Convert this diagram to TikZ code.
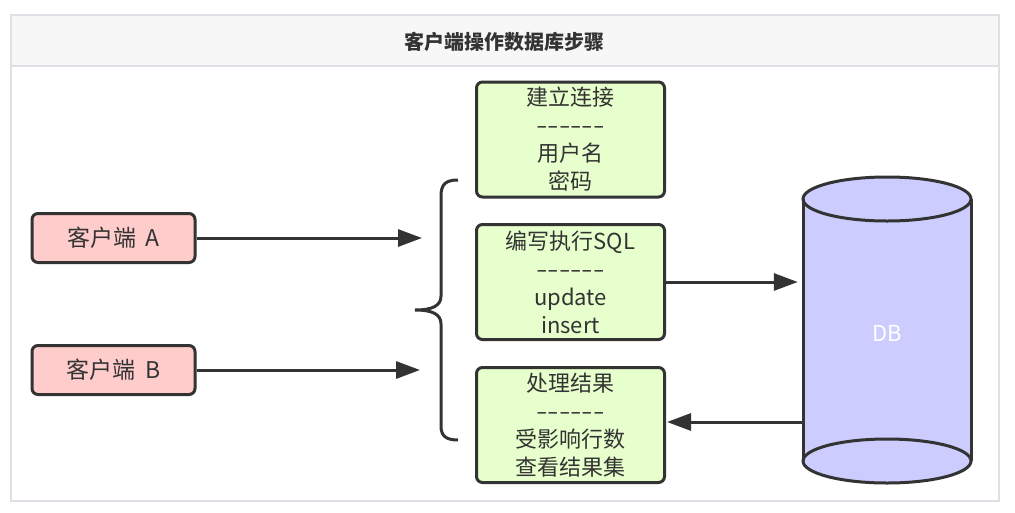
\documentclass[tikz,border=0pt]{standalone}
\usepackage{fontspec}
\newfontfamily\cjk{Noto Sans CJK SC}
\usetikzlibrary{arrows.meta}
\definecolor{ink}{HTML}{333333}
\definecolor{redfill}{HTML}{FFCCCC}
\definecolor{greenfill}{HTML}{E6FFCC}
\definecolor{bluefill}{HTML}{CCCCFF}
\definecolor{framegray}{HTML}{DDE1E6}
\definecolor{titlebg}{HTML}{F7F7F7}
\newcommand{\dashline}{\scalebox{1.5}[1]{------}}
\tikzset{
  box/.style={draw=ink, line width=3pt, rounded corners=6pt, inner sep=0pt, text=ink},
  client/.style={box, fill=redfill, minimum width=163pt, minimum height=49pt, font=\cjk\fontsize{23}{28}\selectfont},
  stepbox/.style={box, fill=greenfill, minimum width=188pt, minimum height=115pt, align=center, font=\cjk\fontsize{22}{28}\selectfont},
  conn/.style={draw=ink, line width=3pt, -{Triangle[length=24pt,width=17pt]}},
}
\begin{document}
\begin{tikzpicture}[x=1pt,y=-1pt]
\useasboundingbox (0,0) rectangle (1015,512);
% frame
\fill[white] (0,0) rectangle (1015,512);
\filldraw[fill=titlebg, draw=framegray, line width=2pt] (11,15) rectangle (999,66);
\draw[framegray, line width=2pt] (11,66) -- (11,501) -- (999,501) -- (999,66);
\node[font=\cjk\fontsize{20}{22}\selectfont\bfseries, text=ink] (title) at (504,42) {客户端操作数据库步骤};
% clients
\node[client] (ca) at (113.5,238) {客户端\hspace{0.4em}A};
\node[client] (cb) at (113.5,370) {客户端\hspace{0.4em}B};
% steps
\node[stepbox] (s1) at (570.5,139.5) {建立连接\\\dashline\\用户名\\密码};
\node[stepbox] (s2) at (570.5,282) {编写执行SQL\\\dashline\\update\\insert};
\node[stepbox] (s3) at (570.5,425) {处理结果\\\dashline\\受影响行数\\查看结果集};
% brace
\draw[ink, line width=3pt] (458,180) .. controls (446,180) and (441,184) .. (441,196) -- (441,296) .. controls (441,306) and (432,310) .. (415,310) .. controls (432,310) and (441,314) .. (441,324) -- (441,426) .. controls (441,436) and (446,440) .. (458,440);
\coordinate (ba) at (422,238);
\coordinate (bb) at (420,370);
% cylinder
\fill[bluefill] (803,199) rectangle (971,461);
\filldraw[fill=bluefill, draw=ink, line width=3pt] (887,461) ellipse [x radius=84, y radius=22];
\filldraw[fill=bluefill, draw=ink, line width=3pt] (887,199) ellipse [x radius=84, y radius=22];
\draw[ink, line width=3pt] (803,199) -- (803,461) (971,199) -- (971,461);
\node[minimum width=168pt, minimum height=262pt, inner sep=0pt] (db) at (887,330) {};
\node[text=white, font=\cjk\fontsize{22}{26}\selectfont] (dbl) at (887,333) {DB};
% connectors
\draw[conn] (ca.east) -- (ba);
\draw[conn] (cb.east) -- (bb);
\draw[conn, shorten >=5pt] (s2.east) -- (s2.east -| db.west);
\draw[conn, shorten >=1pt] (db.west |- 0,422) -- (s3.east |- 0,422);
\end{tikzpicture}
\end{document}
